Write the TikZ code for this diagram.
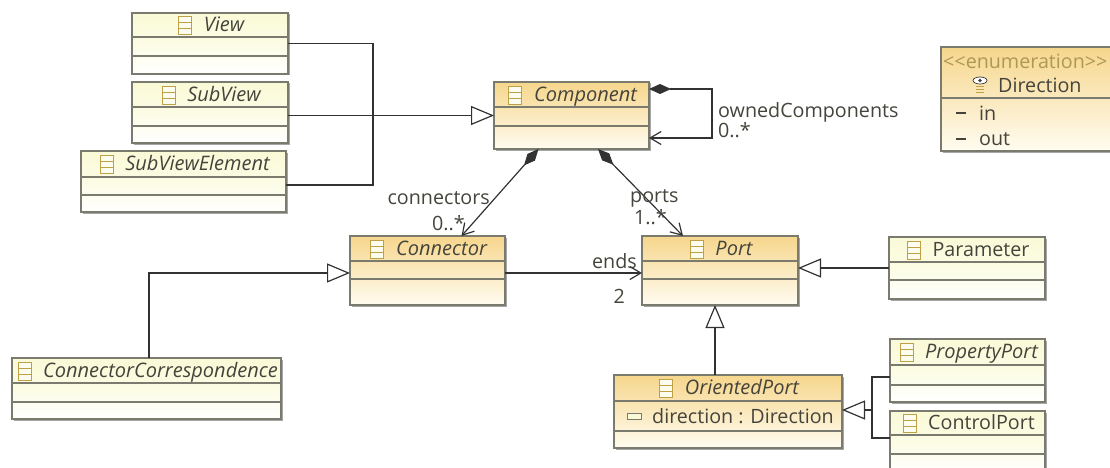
\documentclass[tikz,border=0pt]{standalone}
\usepackage{fontspec}
\setmainfont{Open Sans}
\usepackage{tikz}
\usetikzlibrary{positioning,arrows.meta,shadows,calc}
\definecolor{umlline}{RGB}{122,122,110}
\definecolor{umltext}{RGB}{68,68,60}
\definecolor{umledge}{RGB}{50,50,50}
\definecolor{iconline}{RGB}{190,160,70}
\definecolor{goldtop}{RGB}{246,214,140}
\definecolor{goldbottom}{RGB}{255,252,240}
\definecolor{paletop}{RGB}{250,250,215}
\definecolor{palebottom}{RGB}{255,255,255}
\tikzset{
  umlbox/.style={draw=umlline, line width=1.1pt, inner sep=0pt, outer sep=0pt, anchor=north west,
    drop shadow={shadow xshift=1.5pt, shadow yshift=-1.5pt, fill=black!50, opacity=0.7}},
  goldbox/.style={umlbox, top color=goldtop, bottom color=goldbottom},
  palebox/.style={umlbox, top color=paletop, bottom color=palebottom, middle color=paletop!65!white},
  abstracttitle/.style={text=umltext, font=\fontsize{20}{22}\selectfont\itshape, inner sep=0pt},
  plaintitle/.style={text=umltext, font=\fontsize{19.7}{22}\selectfont, inner sep=0pt},
  edgelabel/.style={text=umltext, font=\fontsize{19.7}{22}\selectfont, inner sep=0pt},
  classicon/.style={draw=iconline, fill=white!60!paletop, line width=0.8pt, minimum width=13pt, minimum height=18pt,
    inner sep=0pt, outer sep=0pt,
    path picture={
      \draw[iconline, line width=0.8pt] ($(path picture bounding box.south west)!0.33!(path picture bounding box.north west)$) -- ($(path picture bounding box.south east)!0.33!(path picture bounding box.north east)$);
      \draw[iconline, line width=0.8pt] ($(path picture bounding box.south west)!0.67!(path picture bounding box.north west)$) -- ($(path picture bounding box.south east)!0.67!(path picture bounding box.north east)$);
    }},
  inherit/.style={umledge, line width=1.2pt, -{Triangle[open, fill=white, length=23pt, width=19pt]}},
  assoc/.style={umledge, line width=1.2pt, -{Straight Barb[length=11pt, width=13pt]}},
  owned/.style={umledge, line width=1.2pt, {Diamond[length=22pt, width=10pt]}-{Straight Barb[length=11pt, width=13pt]}},
}
\begin{document}
\begin{tikzpicture}[x=1pt,y=-1pt]
\useasboundingbox (0,0) rectangle (1110,468);
\clip (0,0) rectangle (1110,468);

% Class boxes: name/style/left/top/right/bottom/first line/second line
\foreach \name/\sty/\xa/\ya/\xb/\yb/\la/\lb in {
    view/palebox/132/13/288/74/37/56,
    subview/palebox/132/82/288/143/107/126,
    element/palebox/81/151/286/212/177/195,
    component/goldbox/494/82/649/149/107/126,
    connector/goldbox/350/236/505/305/261/279,
    port/goldbox/642/236/798/305/261/279,
    parameter/palebox/889/237/1045/299/262/280,
    correspondence/palebox/12/358/281/419/383/402,
    oriented/goldbox/614/375/842/448/401/431,
    property/palebox/890/339/1045/402/365/385,
    control/palebox/890/411/1045/473/435/454}
{
    \node[\sty, minimum width={(\xb-\xa)*1pt}, minimum height={(\yb-\ya)*1pt}] (\name) at (\xa,\ya) {};
    \draw[umlline, line width=1.1pt] (\xa,\la) -- (\xb,\la);
    \draw[umlline, line width=1.1pt] (\xa,\lb) -- (\xb,\lb);
}

% Titles, each with its class icon
\foreach \name/\sty/\txt/\ya/\la in {
    view/abstracttitle/View/13/37,
    subview/abstracttitle/SubView/82/107,
    element/abstracttitle/SubViewElement/151/177,
    component/abstracttitle/Component/82/107,
    connector/abstracttitle/Connector/236/261,
    port/abstracttitle/Port/236/261,
    parameter/plaintitle/Parameter/237/262,
    correspondence/abstracttitle/ConnectorCorrespondence/358/383,
    oriented/abstracttitle/OrientedPort/375/401,
    property/abstracttitle/PropertyPort/339/365,
    control/plaintitle/ControlPort/411/435}
{
    \node[\sty] (\name title) at ($(\name.north)+(14,{(\la-\ya)/2+2.5})$) {\strut\txt};
    \node[classicon, left=12pt of \name title] (\name icon) at ([yshift=2pt]\name title.west) {};
}

% Enumeration
\node[goldbox, minimum width=174pt, minimum height=104pt] (direction) at (941,47) {};
\draw[umlline, line width=1.1pt] (941,98) -- (1115,98);
\node[plaintitle, text=iconline!75!gray, anchor=west] (enumlabel) at (943,61) {\fontsize{19.7}{22}\selectfont <{}<enumeration>{}>};
\node[plaintitle, anchor=west] (dirtitle) at (998,85) {Direction};
\draw[umledge, line width=0.7pt, fill=white] (980,80.5) ellipse (7pt and 3.5pt);
\fill[umltext] (980,80.5) circle (1.8pt);
\foreach \y in {86,89,92}
    \draw[iconline, line width=0.9pt] (976,\y) -- (984,\y);
\node[plaintitle, anchor=west] (dirin) at (979,113) {in};
\node[plaintitle, anchor=west] (dirout) at (979,139) {out};
\node[fill=umltext, minimum width=10pt, minimum height=2pt, inner sep=0pt, left=13pt of dirin] (dashin) {};
\node[fill=umltext, minimum width=10pt, minimum height=2pt, inner sep=0pt] (dashout) at (dashin |- dirout) {};

% Attribute of OrientedPort
\node[plaintitle, anchor=west] (attribute) at (652,416) {direction : Direction};
\node[draw=umlline, fill=paletop, line width=0.7pt, minimum width=14pt, minimum height=6pt, inner sep=0pt, left=10pt of attribute] (attricon) {};

% Generalizations
\coordinate (viewjoin) at (373,115.5);
\coordinate (portjoin) at (872,410);
\draw[umledge, line width=1.2pt] (view.east) -| (viewjoin);
\draw[umledge, line width=1.2pt] ([yshift=-3.5pt]element.east) -| (viewjoin);
\draw[inherit] (subview.east |- component.west) -- (component.west);
\draw[inherit] ([xshift=2.5pt]correspondence.north) |- ([yshift=-2.5pt]connector.west);
\draw[inherit] (parameter.west |- 0,268) -- (port.east |- 0,268);
\draw[inherit] ([xshift=-5pt]port.south |- oriented.north) -- ([xshift=-5pt]port.south);
\draw[umledge, line width=1.2pt] ([yshift=-6.5pt]property.west) -| (portjoin);
\draw[umledge, line width=1.2pt] ([yshift=4pt]control.west) -| (portjoin);
\draw[inherit] (portjoin) -- (oriented.east |- portjoin);

% Associations
\draw[owned] ([yshift=26.5pt]component.east) -- ++(63,0) -- ++(0,49) -- ([yshift=-22.5pt]component.east);
\draw[owned] ([xshift=-33pt]component.south) -- ([xshift=34pt]connector.north);
\draw[owned] ([xshift=26.5pt]component.south) -- ([xshift=-37pt]port.north);
\draw[assoc] ([yshift=-2.5pt]connector.east) -- ([yshift=-2.5pt]port.west);

% Association labels
\node[edgelabel, anchor=west] (ownedlabel) at (718,112) {ownedComponents};
\node[edgelabel, anchor=west] (ownedmult) at (718,130) {0..*};
\node[edgelabel, anchor=east] (connlabel) at (490,198) {connectors};
\node[edgelabel, anchor=east] (connmult) at (465,223) {0..*};
\node[edgelabel, anchor=west] (portlabel) at (630,198) {ports};
\node[edgelabel, anchor=west] (portmult) at (634,217) {1..*};
\node[edgelabel, anchor=east] (endslabel) at (637,261) {ends};
\node[edgelabel, anchor=east] (endsmult) at (625,296) {2};
\end{tikzpicture}
\end{document}
